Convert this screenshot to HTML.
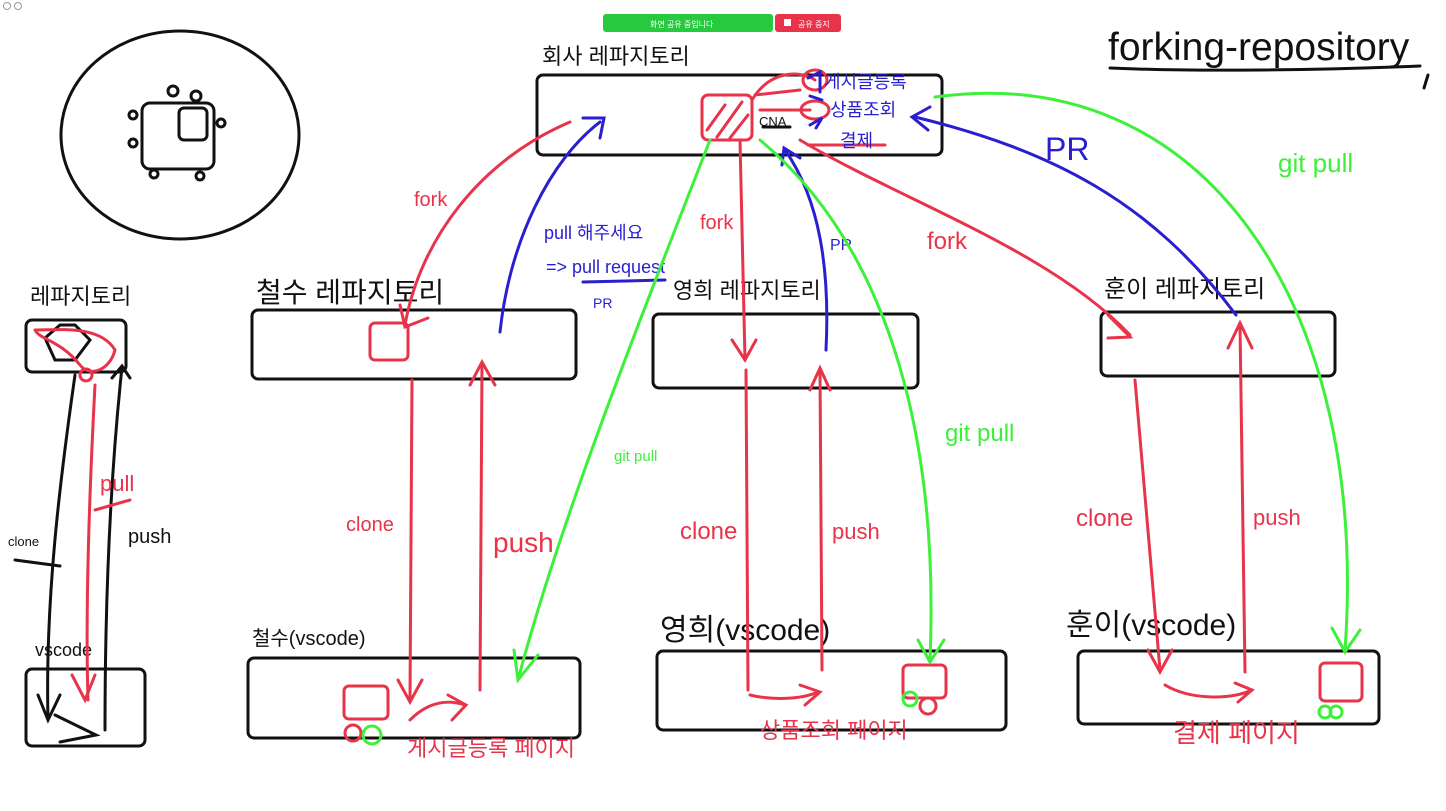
<!DOCTYPE html>
<html><head><meta charset="utf-8"><style>
html,body{margin:0;padding:0;background:#fff;}
svg{display:block;}
text{font-family:"Liberation Sans","Noto Sans CJK KR",sans-serif;}
</style></head><body>
<svg width="1446" height="811" viewBox="0 0 1446 811" xmlns="http://www.w3.org/2000/svg">
<rect width="1446" height="811" fill="#fff"/>
<circle cx="7" cy="6" r="3.5" fill="none" stroke="#999"/><circle cx="18" cy="6" r="3.5" fill="none" stroke="#999"/>
<rect x="603" y="14" width="170" height="18" rx="3" fill="#27c93f"/>
<text x="650" y="27" font-size="8" fill="#fff">화면 공유 중입니다</text>
<rect x="775" y="14" width="66" height="18" rx="3" fill="#e8344a"/>
<text x="798" y="27" font-size="8" fill="#fff">공유 중지</text>
<rect x="784" y="19" width="7" height="7" fill="#fff"/>

<g fill="none" stroke="#111" stroke-width="3" stroke-linecap="round">
<ellipse cx="180" cy="135" rx="119" ry="104"/>
<rect x="142" y="103" width="72" height="66" rx="8"/>
<rect x="179" y="108" width="28" height="32" rx="5"/>
<circle cx="173" cy="91" r="5"/><circle cx="196" cy="96" r="5"/><circle cx="133" cy="115" r="4"/><circle cx="133" cy="143" r="4"/><circle cx="221" cy="123" r="4"/><circle cx="154" cy="174" r="4"/><circle cx="200" cy="176" r="4"/>
<rect x="537" y="75" width="405" height="80" rx="6"/>
<rect x="252" y="310" width="324" height="69" rx="6"/>
<rect x="653" y="314" width="265" height="74" rx="6"/>
<rect x="1101" y="312" width="234" height="64" rx="6"/>
<rect x="248" y="658" width="332" height="80" rx="6"/>
<rect x="657" y="651" width="349" height="79" rx="6"/>
<rect x="1078" y="651" width="301" height="73" rx="6"/>
<rect x="26" y="320" width="100" height="52" rx="6"/>
<rect x="26" y="669" width="119" height="77" rx="6"/>
<path d="M45 338 L60 325 L75 325 L90 340 L75 360 L55 360 Z"/>
<path d="M75 375 C 60 480,45 600,48 720"/>
<path d="M38 695 L48 720 L60 695"/>
<path d="M122 367 C 110 480,105 600,105 730"/>
<path d="M112 378 L122 366 L130 378"/>
<path d="M15 560 L60 566"/>
<path d="M55 715 L96 735 L60 742"/>
<path d="M1110 68 C 1200 72,1320 70,1420 66" stroke-width="3"/>
<path d="M1428 75 L1424 88"/>
<path d="M763 127 L790 127"/>
</g>
<text x="1108" y="60" font-size="39" fill="#111">forking-repository</text>
<g font-size="22" fill="#111">
<text x="542" y="64">회사 레파지토리</text>
<text x="256" y="302" font-size="28">철수 레파지토리</text>
<text x="673" y="298">영희 레파지토리</text>
<text x="1104" y="297" font-size="24">훈이 레파지토리</text>
<text x="252" y="645" font-size="20">철수(vscode)</text>
<text x="660" y="640" font-size="30">영희(vscode)</text>
<text x="1066" y="635" font-size="30">훈이(vscode)</text>
<text x="30" y="304">레파지토리</text>
<text x="35" y="656" font-size="18">vscode</text>
<text x="128" y="543" font-size="20">push</text>
<text x="8" y="546" font-size="13">clone</text>
<text x="759" y="126" font-size="13">CNA</text>
</g>
<g fill="none" stroke="#e8344a" stroke-width="3" stroke-linecap="round">
<rect x="702" y="95" width="50" height="45" rx="6"/>
<path d="M707 130 L725 105 M717 137 L742 102 M730 138 L748 115"/>
<path d="M752 100 C 770 70,800 70,815 80 M760 110 L810 110 M755 95 L800 90"/>
<ellipse cx="815" cy="80" rx="12" ry="10"/><ellipse cx="815" cy="110" rx="14" ry="9"/>
<path d="M808 145 L885 145"/>
<path d="M35 330 C 60 330,100 325,115 350 C 110 370,90 378,80 365 C 60 340,40 340,35 330"/>
<circle cx="86" cy="375" r="6"/>
<path d="M95 385 C 90 480,85 600,88 700"/><path d="M72 675 L85 700 L95 675"/>
<path d="M95 510 L130 500"/>
<path d="M570 122 C 480 160,420 240,405 325"/><path d="M400 305 L405 327 L428 318"/>
<rect x="370" y="323" width="38" height="37" rx="5"/>
<path d="M412 380 L410 700"/><path d="M398 680 L410 702 L422 680"/>
<path d="M480 690 L482 365"/><path d="M470 385 L482 362 L495 385"/>
<rect x="344" y="686" width="44" height="33" rx="5"/>
<circle cx="353" cy="733" r="8"/>
<path d="M410 720 C 430 700,450 700,465 705"/><path d="M448 695 L466 705 L452 720"/>
<path d="M740 140 L745 360"/><path d="M732 340 L745 360 L756 340"/>
<path d="M746 370 L748 690"/><path d="M822 670 L820 370"/><path d="M810 390 L820 368 L830 390"/>
<path d="M750 695 C 770 700,800 700,818 692"/><path d="M800 685 L820 692 L805 705"/>
<rect x="903" y="665" width="43" height="33" rx="5"/><circle cx="928" cy="706" r="8"/>
<path d="M800 140 C 900 200,1050 250,1130 335"/><path d="M1108 315 L1130 337 L1108 338"/>
<path d="M1135 380 L1160 670"/><path d="M1148 650 L1160 672 L1172 650"/>
<path d="M1245 672 L1240 325"/><path d="M1228 348 L1240 323 L1252 348"/>
<path d="M1165 685 C 1190 700,1230 700,1252 690"/><path d="M1235 683 L1252 690 L1238 702"/>
<rect x="1320" y="663" width="42" height="38" rx="5"/>
</g>
<g font-size="20" fill="#e8344a">
<text x="414" y="206">fork</text>
<text x="700" y="229">fork</text>
<text x="927" y="249" font-size="24">fork</text>
<text x="346" y="531">clone</text>
<text x="493" y="552" font-size="28">push</text>
<text x="680" y="539" font-size="24">clone</text>
<text x="832" y="539" font-size="22">push</text>
<text x="1076" y="526" font-size="24">clone</text>
<text x="1253" y="525" font-size="22">push</text>
<text x="100" y="491" font-size="22">pull</text>
<text x="407" y="756" font-size="22">게시글등록 페이지</text>
<text x="760" y="738" font-size="22">상품조회 페이지</text>
<text x="1173" y="742" font-size="26">결제 페이지</text>
</g>
<g fill="none" stroke="#2a1fd0" stroke-width="3" stroke-linecap="round">
<path d="M500 332 C 510 240,550 160,600 122"/><path d="M583 118 L604 118 L600 138"/>
<path d="M826 350 C 830 270,820 200,785 150"/><path d="M782 165 L784 148 L800 158"/>
<path d="M1236 315 C 1150 200,1050 150,915 117"/><path d="M930 107 L912 117 L928 130"/>
<path d="M583 282 L665 280"/>
<path d="M808 78 L820 72 L820 92 M810 96 L822 100 M810 125 L822 118 L816 128"/>
</g>
<g fill="#2a1fd0">
<text x="544" y="239" font-size="18">pull 해주세요</text>
<text x="546" y="273" font-size="18">=&gt; pull request</text>
<text x="593" y="308" font-size="14">PR</text>
<text x="830" y="250" font-size="16">PR</text>
<text x="1045" y="160" font-size="32">PR</text>
<text x="824" y="88" font-size="18">게시글등록</text>
<text x="830" y="116" font-size="18">상품조회</text>
<text x="840" y="147" font-size="18">결제</text>
</g>
<g fill="none" stroke="#3df03a" stroke-width="3" stroke-linecap="round">
<path d="M710 140 C 640 320,560 520,518 680"/><path d="M514 650 L518 680 L538 655"/>
<path d="M760 140 C 880 240,940 420,930 660"/><path d="M918 640 L930 662 L944 640"/>
<path d="M935 97 C 1200 60,1370 300,1345 650"/><path d="M1332 628 L1345 652 L1360 630"/>
<circle cx="372" cy="735" r="9"/><circle cx="910" cy="699" r="7"/>
<circle cx="1325" cy="712" r="6"/><circle cx="1336" cy="712" r="6"/>
</g>
<g fill="#3df03a">
<text x="614" y="461" font-size="15">git pull</text>
<text x="945" y="441" font-size="24">git pull</text>
<text x="1278" y="172" font-size="26">git pull</text>
</g>
</svg>
</body></html>
